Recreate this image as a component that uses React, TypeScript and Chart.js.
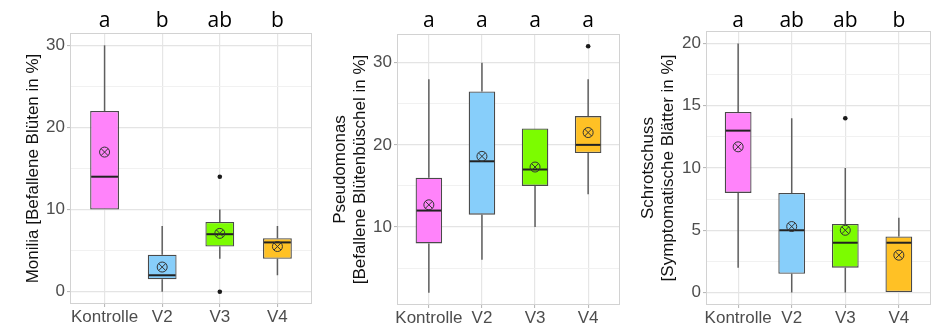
import React, { useEffect, useRef } from "react";
import { Chart, registerables } from "chart.js";

Chart.register(...registerables);

// ---------- data ----------
const categories = ["Kontrolle", "V2", "V3", "V4"];
const boxColors = ["#FF83FA", "#87CEFA", "#7CFC00", "#FFC125"];

// Monilia
const moniliaMin = [10, 0, 4, 2];
const moniliaQ1 = [10, 1.5, 5.5, 4];
const moniliaMedian = [14, 2, 7, 6];
const moniliaQ3 = [22, 4.5, 8.5, 6.5];
const moniliaMax = [30, 8, 10, 8];
const moniliaMean = [17, 3, 7.1, 5.5];
const moniliaOutliers = [[], [], [14, 0], []];
const moniliaLetters = ["a", "b", "ab", "b"];
const moniliaMajorTicks = [0, 10, 20, 30];
const moniliaMinorTicks = [5, 15, 25];

// Pseudomonas
const pseudoMin = [2, 6, 10, 14];
const pseudoQ1 = [8, 11.5, 15, 19];
const pseudoMedian = [12, 18, 17, 20];
const pseudoQ3 = [16, 26.5, 22, 23.5];
const pseudoMax = [28, 30, 22, 28];
const pseudoMean = [12.7, 18.6, 17.3, 21.5];
const pseudoOutliers = [[], [], [], [32]];
const pseudoLetters = ["a", "a", "a", "a"];
const pseudoMajorTicks = [10, 20, 30];
const pseudoMinorTicks = [5, 15, 25];

// Schrotschuss
const schrotMin = [2, 0, 0, 0];
const schrotQ1 = [8, 1.5, 2, 0];
const schrotMedian = [13, 5, 4, 4];
const schrotQ3 = [14.5, 8, 5.5, 4.5];
const schrotMax = [20, 14, 10, 6];
const schrotMean = [11.7, 5.3, 5.0, 3.0];
const schrotOutliers = [[], [], [14], []];
const schrotLetters = ["a", "ab", "ab", "b"];
const schrotMajorTicks = [0, 5, 10, 15, 20];
const schrotMinorTicks = [2.5, 7.5, 12.5, 17.5];

// ---------- types ----------
interface BoxData {
  min: number[];
  q1: number[];
  median: number[];
  q3: number[];
  max: number[];
  mean: number[];
  outliers: number[][];
  letters: string[];
  major: number[];
  minor: number[];
}

interface PanelLayout {
  title: string | string[];
  yMin: number;
  yMax: number;
  left: number;
  width: number;
  axisWidth: number;
  rightPad: number;
  topPad: number;
  xAxisHeight: number;
  titlePad: number;
}

const moniliaData: BoxData = {
  min: moniliaMin, q1: moniliaQ1, median: moniliaMedian, q3: moniliaQ3, max: moniliaMax,
  mean: moniliaMean, outliers: moniliaOutliers, letters: moniliaLetters,
  major: moniliaMajorTicks, minor: moniliaMinorTicks,
};
const pseudoData: BoxData = {
  min: pseudoMin, q1: pseudoQ1, median: pseudoMedian, q3: pseudoQ3, max: pseudoMax,
  mean: pseudoMean, outliers: pseudoOutliers, letters: pseudoLetters,
  major: pseudoMajorTicks, minor: pseudoMinorTicks,
};
const schrotData: BoxData = {
  min: schrotMin, q1: schrotQ1, median: schrotMedian, q3: schrotQ3, max: schrotMax,
  mean: schrotMean, outliers: schrotOutliers, letters: schrotLetters,
  major: schrotMajorTicks, minor: schrotMinorTicks,
};

const FONT = "'Liberation Sans', Arial, sans-serif";
const H = 326;

function Panel({ data, layout }: { data: BoxData; layout: PanelLayout }) {
  const ref = useRef<HTMLCanvasElement | null>(null);

  useEffect(() => {
    if (!ref.current) return;
    const isMajor = (v: number) => data.major.includes(v);

    const extras = {
      id: "boxExtras",
      beforeDatasetsDraw(chart: any) {
        const { ctx, scales } = chart;
        const x = scales.x;
        const y = scales.y;
        ctx.save();
        ctx.strokeStyle = "#5f5f5f";
        ctx.lineWidth = 1.5;
        categories.forEach((_, i) => {
          const px = x.getPixelForValue(i + 1);
          ctx.beginPath();
          ctx.moveTo(px, y.getPixelForValue(data.max[i]));
          ctx.lineTo(px, y.getPixelForValue(data.q3[i]));
          ctx.moveTo(px, y.getPixelForValue(data.q1[i]));
          ctx.lineTo(px, y.getPixelForValue(data.min[i]));
          ctx.stroke();
        });
        ctx.restore();
      },
      afterDatasetDraw(chart: any, args: any) {
        if (args.index !== 0) return;
        const { ctx, scales } = chart;
        const y = scales.y;
        const meta = chart.getDatasetMeta(0);
        ctx.save();
        ctx.strokeStyle = "#222222";
        ctx.lineWidth = 2;
        meta.data.forEach((el: any, i: number) => {
          const p = el.getProps(["x", "width"], true);
          const py = y.getPixelForValue(data.median[i]);
          ctx.beginPath();
          ctx.moveTo(p.x - p.width / 2 + 1, py);
          ctx.lineTo(p.x + p.width / 2 - 1, py);
          ctx.stroke();
        });
        ctx.restore();
      },
      afterDraw(chart: any) {
        const { ctx, chartArea: a, scales } = chart;
        const x = scales.x;
        ctx.save();
        ctx.strokeStyle = "#d2d2d2";
        ctx.lineWidth = 1;
        ctx.strokeRect(
          Math.round(a.left) + 0.5,
          Math.round(a.top) + 0.5,
          Math.round(a.right - a.left) - 1,
          Math.round(a.bottom - a.top) - 1
        );
        ctx.fillStyle = "#000000";
        ctx.font = "21px 'Open Sans', 'DejaVu Sans', sans-serif";
        ctx.textAlign = "center";
        ctx.textBaseline = "alphabetic";
        data.letters.forEach((l, i) => {
          ctx.fillText(l, x.getPixelForValue(i + 1), 27);
        });
        ctx.restore();
      },
    };

    const outlierPts: { x: number; y: number }[] = [];
    data.outliers.forEach((arr, i) => arr.forEach((v) => outlierPts.push({ x: i + 1, y: v })));
    const meanPts = data.mean.map((v, i) => ({ x: i + 1, y: v }));

    const chart = new Chart(ref.current, {
      type: "bar",
      data: {
        datasets: [
          {
            type: "bar",
            data: categories.map((_, i) => ({ x: i + 1, y: [data.q1[i], data.q3[i]] })) as any,
            backgroundColor: boxColors,
            borderColor: "#4a4a4a",
            borderWidth: 1.3,
            borderSkipped: false,
            barPercentage: 0.5,
            categoryPercentage: 1,
            order: 3,
          } as any,
          {
            type: "scatter",
            data: outlierPts,
            pointStyle: "circle",
            pointRadius: 2.3,
            pointBackgroundColor: "#1a1a1a",
            pointBorderWidth: 0,
            order: 2,
          } as any,
          {
            type: "scatter",
            data: meanPts,
            pointStyle: "circle",
            pointRadius: 5,
            pointBackgroundColor: "rgba(0,0,0,0)",
            pointBorderColor: "#333333",
            pointBorderWidth: 1,
            order: 1,
          } as any,
          {
            type: "scatter",
            data: meanPts,
            pointStyle: "crossRot",
            pointRadius: 5,
            pointBorderColor: "#333333",
            pointBorderWidth: 1,
            order: 0,
          } as any,
        ],
      },
      options: {
        animation: false,
        responsive: false,
        devicePixelRatio: 1,
        events: [],
        layout: {
          padding: { left: 0, right: layout.rightPad, top: layout.topPad, bottom: 0 },
        },
        plugins: {
          legend: { display: false },
          tooltip: { enabled: false },
        },
        scales: {
          x: {
            type: "linear",
            min: 0.4,
            max: 4.6,
            bounds: "data",
            offset: false,
            afterBuildTicks: (s: any) => {
              s.ticks = categories.map((_, i) => ({ value: i + 1 }));
            },
            afterFit: (s: any) => {
              s.height = layout.xAxisHeight;
              s.paddingLeft = 0;
              s.paddingRight = 0;
            },
            ticks: {
              autoSkip: false,
              maxRotation: 0,
              minRotation: 0,
              padding: 0,
              color: "#4d4d4d",
              font: { family: FONT, size: 17 },
              callback: (v: any) => categories[Number(v) - 1] ?? "",
            },
            grid: {
              offset: false,
              color: "#e6e6e6",
              lineWidth: 1.2,
              tickLength: 3,
              tickColor: "#b3b3b3",
              tickWidth: 1,
            },
            border: { display: false },
          } as any,
          y: {
            type: "linear",
            min: layout.yMin,
            max: layout.yMax,
            bounds: "data",
            afterBuildTicks: (s: any) => {
              s.ticks = [...data.minor, ...data.major]
                .sort((a, b) => a - b)
                .map((v) => ({ value: v }));
            },
            afterFit: (s: any) => {
              s.width = layout.axisWidth;
              s.paddingTop = 0;
              s.paddingBottom = 0;
            },
            ticks: {
              padding: 2,
              color: "#4d4d4d",
              font: { family: FONT, size: 17 },
              callback: (v: any) => (isMajor(Number(v)) ? String(v) : ""),
            },
            grid: {
              color: (c: any) => (c.tick && isMajor(c.tick.value) ? "#e4e4e4" : "#efefef"),
              lineWidth: (c: any) => (c.tick && isMajor(c.tick.value) ? 1.2 : 0.9),
              tickLength: 3,
              tickColor: (c: any) =>
                c.tick && isMajor(c.tick.value) ? "#b3b3b3" : "rgba(0,0,0,0)",
              tickWidth: 1,
            },
            border: { display: false },
            title: {
              display: true,
              text: layout.title,
              color: "#111111",
              font: { family: FONT, size: 17, lineHeight: 1.2 },
              padding: { top: layout.titlePad, bottom: 0 },
            },
          } as any,
        },
      },
      plugins: [extras],
    });

    return () => chart.destroy();
  }, [data, layout]);

  return (
    <canvas
      ref={ref}
      width={layout.width}
      height={H}
      style={{
        position: "absolute",
        left: layout.left,
        top: 0,
        width: layout.width,
        height: H,
        display: "block",
      }}
    />
  );
}

const moniliaLayout: PanelLayout = {
  title: "Monilia [Befallene Blüten in %]",
  yMin: -1.5,
  yMax: 31.5,
  left: 0,
  width: 318,
  axisWidth: 70,
  rightPad: 4,
  topPad: 33,
  xAxisHeight: 22,
  titlePad: 23,
};

const pseudoLayout: PanelLayout = {
  title: ["Pseudomonas", "[Befallene Blütenbüschel in %]"],
  yMin: 0.5,
  yMax: 33.5,
  left: 318,
  width: 308,
  axisWidth: 79,
  rightPad: 5,
  topPad: 34,
  xAxisHeight: 21,
  titlePad: 12,
};

const schrotLayout: PanelLayout = {
  title: ["Schrotschuss", "[Symptomatische Blätter in %]"],
  yMin: -1,
  yMax: 21,
  left: 626,
  width: 312,
  axisWidth: 80,
  rightPad: 7,
  topPad: 31,
  xAxisHeight: 21,
  titlePad: 12,
};

export default function App() {
  return (
    <div
      style={{
        position: "fixed",
        left: 0,
        top: 0,
        width: 938,
        height: H,
        background: "#ffffff",
        overflow: "hidden",
      }}
    >
      <Panel data={moniliaData} layout={moniliaLayout} />
      <Panel data={pseudoData} layout={pseudoLayout} />
      <Panel data={schrotData} layout={schrotLayout} />
    </div>
  );
}
